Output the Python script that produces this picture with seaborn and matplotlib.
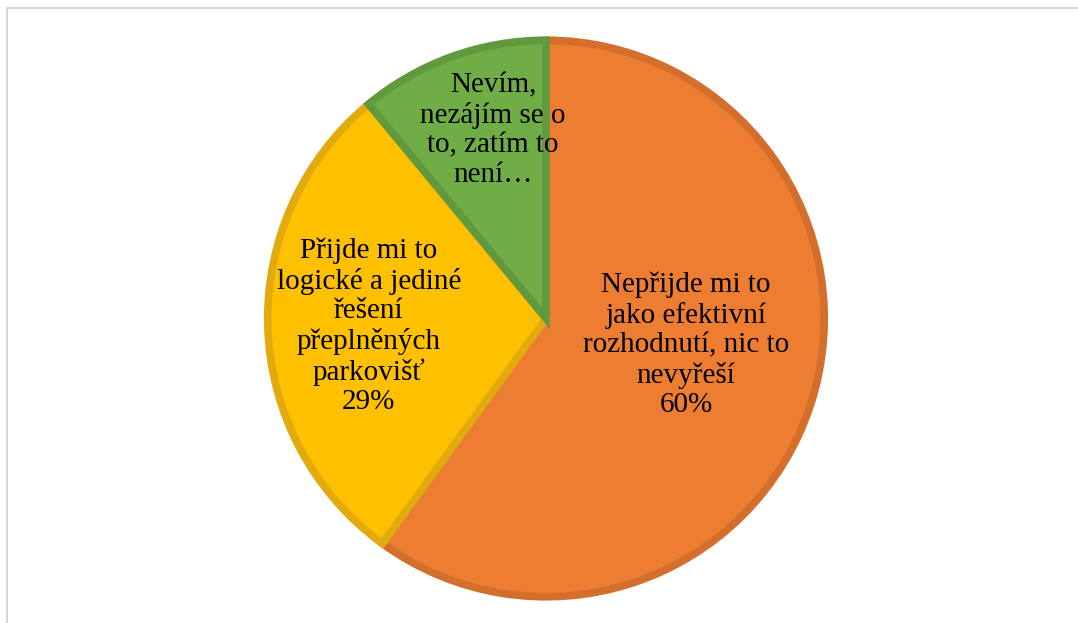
import matplotlib
matplotlib.use("Agg")
import matplotlib.pyplot as plt
import seaborn as sns
import numpy as np
from matplotlib.patches import Rectangle

# Data
categories = [
    "Nepřijde mi to jako efektivní rozhodnutí, nic to nevyřeší",
    "Přijde mi to logické a jediné řešení přeplněných parkovišť",
    "Nevím, nezájím se o to, zatím to není…",
]
values = [60, 29, 11]
label_texts = [
    "Nepřijde mi to\njako efektivní\nrozhodnutí, nic to\nnevyřeší\n60%",
    "Přijde mi to\nlogické a jediné\nřešení\npřeplněných\nparkovišť\n29%",
    "Nevím,\nnezájím se o\nto, zatím to\nnení…",
]

# Style
fill_colors = ["#ED7D31", "#FFC000", "#70AD47"]
edge_colors = ["#D46E2C", "#E2AA0E", "#63993E"]
label_pos = [(0.496, -0.094), (-0.627, -0.029), (-0.188, 0.666)]

sns.set_theme(style="white")
plt.rcParams["font.family"] = ["Liberation Serif", "DejaVu Serif"]

W, H = 1078, 623
fig = plt.figure(figsize=(W / 100, H / 100), dpi=100)
fig.patch.set_facecolor("white")

cx, cy, r = 546, 318.5, 282.5
ax = fig.add_axes([(cx - r) / W, (H - cy - r) / H, 2 * r / W, 2 * r / H])
wedges, _ = ax.pie(values, colors=fill_colors, startangle=90, counterclock=False,
                   radius=0.985,
                   wedgeprops=dict(linewidth=5.5, joinstyle="miter"))
for w, ec in zip(wedges, edge_colors):
    w.set_edgecolor(ec)
for (x, y), t in zip(label_pos, label_texts):
    ax.text(x, y, t, ha="center", va="center", fontsize=21, color="black",
            linespacing=1.17)
ax.set_xlim(-1, 1)
ax.set_ylim(-1, 1)
ax.set_aspect("auto")
ax.axis("off")

# Chart area frame
fig.patches.append(Rectangle((7 / W, -0.1), 1.2, (H - 8) / H + 0.1,
                             transform=fig.transFigure, fill=False,
                             edgecolor="#D9D9D9", linewidth=1.5, zorder=0))

fig.savefig("out.png", dpi=100, facecolor="white")
